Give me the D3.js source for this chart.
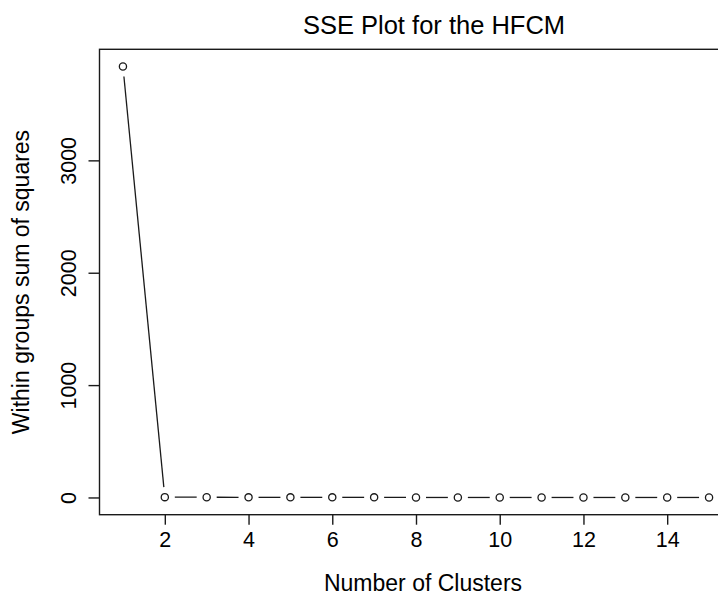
<!DOCTYPE html>
<html>
<head>
<meta charset="utf-8">
<script src="https://cdn.jsdelivr.net/npm/d3@7"></script>
<style>
  body { margin: 0; background: #fff; }
  svg { display: block; font-family: "Liberation Sans", Arial, sans-serif; }
</style>
</head>
<body>
<div id="chart"></div>
<script>
// data
const clusters = [1, 2, 3, 4, 5, 6, 7, 8, 9, 10, 11, 12, 13, 14, 15];
const sse = [3835, 3, 2, 1, 1, 1, 1, 0, 0, 0, 0, 0, 0, 0, 0];
const xTicks = [2, 4, 6, 8, 10, 12, 14];
const yTicks = [0, 1000, 2000, 3000];

const width = 718, height = 594;
const plot = {left: 99.5, right: 732.5, top: 49.3, bottom: 514.7};

const svg = d3.select("#chart").append("svg")
    .attr("width", width)
    .attr("height", height);

// R style 4% padding on both axes
const xPad = (d3.max(clusters) - d3.min(clusters)) * 0.04;
const yPad = (d3.max(sse) - d3.min(sse)) * 0.04;

const x = d3.scaleLinear()
    .domain([d3.min(clusters) - xPad, d3.max(clusters) + xPad])
    .range([plot.left, plot.right]);

const y = d3.scaleLinear()
    .domain([d3.min(sse) - yPad, d3.max(sse) + yPad])
    .range([plot.bottom, plot.top]);

const ink = "#1a1a1a";

// box
svg.append("rect")
    .attr("x", plot.left)
    .attr("y", plot.top)
    .attr("width", plot.right - plot.left)
    .attr("height", plot.bottom - plot.top)
    .attr("fill", "none")
    .attr("stroke", ink)
    .attr("stroke-width", 1.4);

// x axis
const xAxis = svg.append("g")
    .attr("transform", "translate(0," + plot.bottom + ")")
    .call(d3.axisBottom(x).tickValues(xTicks).tickSize(10).tickPadding(7).tickFormat(d3.format("d")));
xAxis.select(".domain").remove();
xAxis.selectAll("line").attr("stroke", ink).attr("stroke-width", 1.4);
xAxis.selectAll("text")
    .attr("fill", "#000")
    .style("font-size", "21.5px")
    .attr("dy", "0.71em");

// y axis, labels parallel to axis like R
const yAxis = svg.append("g")
    .attr("transform", "translate(" + plot.left + ",0)")
    .call(d3.axisLeft(y).tickValues(yTicks).tickSize(11).tickFormat(d3.format("d")));
yAxis.select(".domain").remove();
yAxis.selectAll("line").attr("stroke", ink).attr("stroke-width", 1.4);
yAxis.selectAll("text")
    .attr("x", null)
    .attr("dy", null)
    .attr("fill", "#000")
    .style("font-size", "21.5px")
    .attr("text-anchor", "middle")
    .attr("transform", "translate(-24,0) rotate(-90)");

// line segments with gaps round the points (type = "b")
const gap = 10;
const pts = clusters.map((c, i) => [x(c), y(sse[i])]);
const segs = d3.pairs(pts).map(([a, b]) => {
    const dx = b[0] - a[0], dy = b[1] - a[1];
    const len = Math.hypot(dx, dy);
    const ux = dx / len, uy = dy / len;
    return [a[0] + ux * gap, a[1] + uy * gap, b[0] - ux * gap, b[1] - uy * gap];
});

svg.selectAll(".seg")
    .data(segs)
    .enter()
    .append("line")
    .attr("class", "seg")
    .attr("x1", d => d[0])
    .attr("y1", d => d[1])
    .attr("x2", d => d[2])
    .attr("y2", d => d[3])
    .attr("stroke", ink)
    .attr("stroke-width", 1.3);

svg.selectAll(".pt")
    .data(clusters)
    .enter()
    .append("circle")
    .attr("class", "pt")
    .attr("cx", d => x(d))
    .attr("cy", (d, i) => y(sse[i]))
    .attr("r", 3.6)
    .attr("fill", "none")
    .attr("stroke", ink)
    .attr("stroke-width", 1.3);

// titles
svg.append("text")
    .attr("x", 434)
    .attr("y", 33.5)
    .attr("text-anchor", "middle")
    .style("font-size", "25.5px")
    .attr("fill", "#000")
    .text("SSE Plot for the HFCM");

svg.append("text")
    .attr("x", 423)
    .attr("y", 591)
    .attr("text-anchor", "middle")
    .style("font-size", "23px")
    .attr("fill", "#000")
    .text("Number of Clusters");

svg.append("text")
    .attr("transform", "translate(29," + ((plot.top + plot.bottom) / 2) + ") rotate(-90)")
    .attr("text-anchor", "middle")
    .style("font-size", "23px")
    .attr("fill", "#000")
    .text("Within groups sum of squares");
</script>
</body>
</html>
